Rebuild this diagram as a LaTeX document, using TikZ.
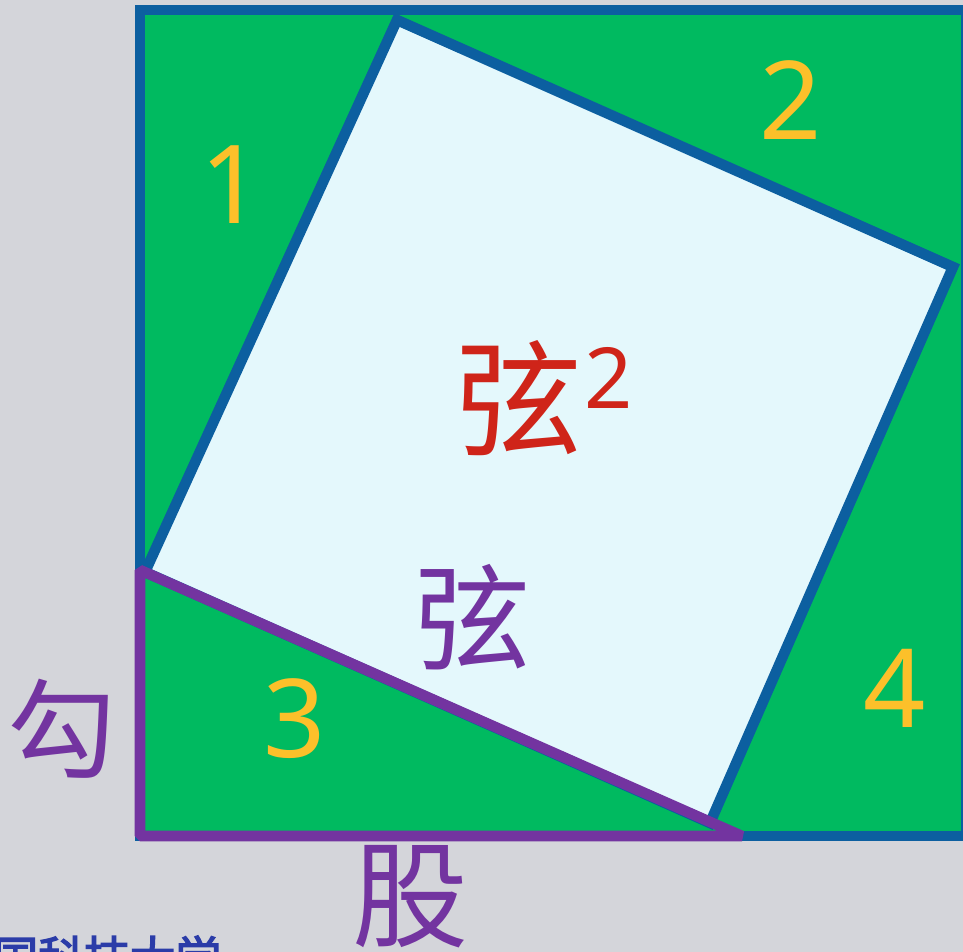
\documentclass[tikz,border=0pt]{standalone}
\usepackage{fontspec}
\setmainfont{Noto Sans}
\newfontfamily\cjk{Noto Sans CJK SC}
\newfontfamily\cjkheavy[FakeBold=3]{Noto Sans CJK SC}
\usetikzlibrary{calc}

\definecolor{bggray}{HTML}{D4D5DA}
\definecolor{sqgreen}{HTML}{00BA60}
\definecolor{sqblue}{HTML}{0C5FA0}
\definecolor{sqcyan}{HTML}{E4F8FC}
\definecolor{numorange}{HTML}{FCC02A}
\definecolor{xianred}{HTML}{CF2419}
\definecolor{gupurple}{HTML}{7334A0}
\definecolor{markblue}{HTML}{2B3CA8}

\begin{document}
\begin{tikzpicture}[
  numlbl/.style={inner sep=0pt,text=numorange,font=\fontsize{31}{31}\selectfont},
  cjklbl/.style={inner sep=0pt,text=gupurple}
]

\useasboundingbox (0,0) rectangle (9.63,9.52);
\fill[bggray] (0,0) rectangle (9.63,9.52);

\coordinate (SW) at (1.40,1.16);
\coordinate (NE) at (9.66,9.42);

% inner square (vertices sit just inside the frame)
\coordinate (T) at (3.97,9.32);
\coordinate (R) at (9.53,6.85);
\coordinate (B) at (7.10,1.29);
\coordinate (L) at (1.45,3.80);

% right triangle 3
\coordinate (Lg) at (1.40,3.82);
\coordinate (Bg) at (7.42,1.16);

\fill[sqgreen] (SW) rectangle (NE);
\filldraw[fill=sqcyan,draw=sqblue,line width=3pt] (T)--(R)--(B)--(L)--cycle;
\draw[sqblue,line width=3.1pt] (SW) rectangle (NE);
\draw[gupurple,line width=3pt,line join=bevel] (Lg)--(SW)--(Bg)--cycle;

\node[numlbl] (one) at (2.32,7.67) {1};
\node[numlbl] (two) at (7.91,8.52) {2};
\node[numlbl] (three) at (2.95,2.33) {3};
\node[numlbl] (four) at (8.95,2.64) {4};

\node[inner sep=0pt,text=xianred,font=\cjk\fontsize{36}{36}\selectfont] (xiansq) at (5.19,5.54) {弦};
\node[inner sep=0pt,text=xianred,font=\fontsize{24}{24}\selectfont] (sq) at (6.09,5.74) {2};

\node[cjklbl,font=\cjk\fontsize{33}{33}\selectfont] (xian) at (4.72,3.35) {弦};
\node[cjklbl,font=\cjk\fontsize{31}{31}\selectfont] (gou) at (0.62,2.23) {勾};
\node[cjklbl,font=\cjk\fontsize{33}{33}\selectfont] (gu) at (4.10,0.55) {股};

\node[anchor=north,inner sep=0pt,text=markblue,font=\cjkheavy\fontsize{13}{13}\selectfont] (mark) at (1.07,0.17) {国科技大学};

\end{tikzpicture}
\end{document}
